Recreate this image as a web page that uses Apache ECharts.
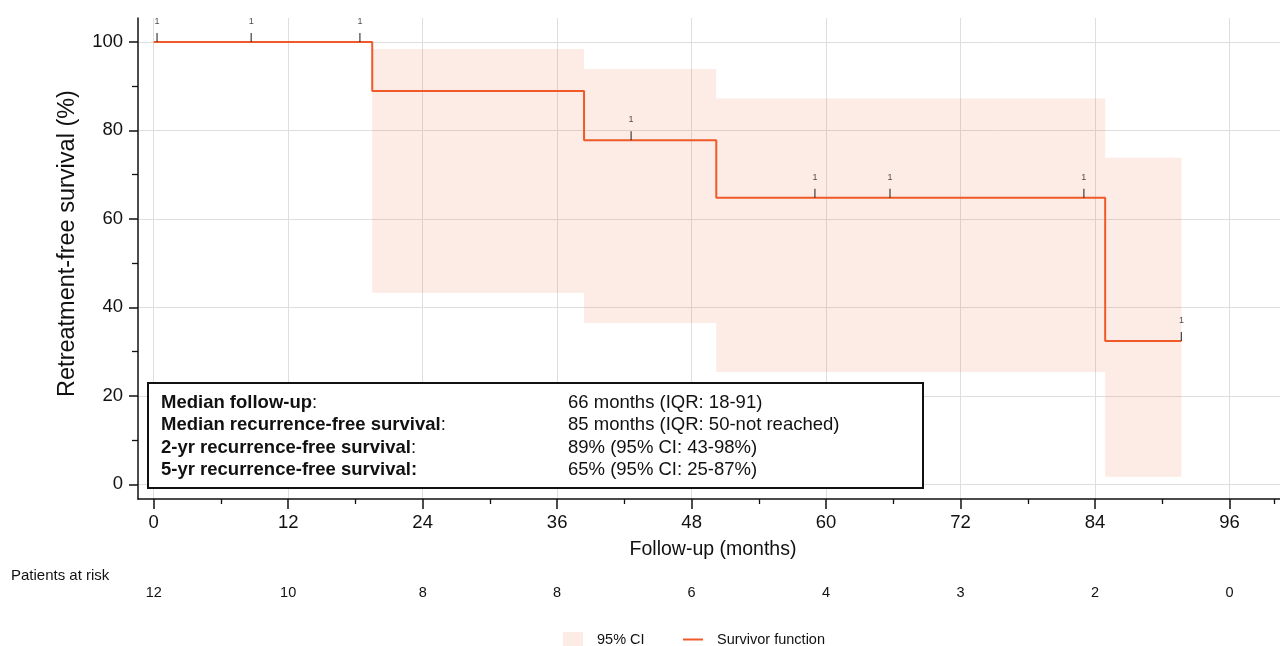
<!DOCTYPE html>
<html>
<head>
<meta charset="utf-8">
<script src="https://cdn.jsdelivr.net/npm/echarts@6/dist/echarts.min.js"></script>
<style>html,body{margin:0;padding:0;background:#fff;}#c{width:1280px;height:646px;}</style>
</head>
<body>
<div id="c"></div>
<script>
// ---- data ----
const stepTimes = [0, 19.5, 38.4, 50.2, 84.9, 91.7];
const stepSurvival = [100, 88.9, 77.8, 64.8, 32.4, 32.4];
const censorTimes = [0.3, 8.7, 18.4, 42.6, 59.0, 65.7, 83.0, 91.7];
const censorSurvival = [100, 100, 100, 77.8, 64.8, 64.8, 64.8, 32.4];
const censorCounts = [1, 1, 1, 1, 1, 1, 1, 1];
const ciStart = [19.5, 38.4, 50.2, 84.9];
const ciEnd = [38.4, 50.2, 84.9, 91.7];
const ciLower = [43.3, 36.5, 25.4, 1.7];
const ciUpper = [98.4, 93.9, 87.2, 73.8];
const xTicks = [0, 12, 24, 36, 48, 60, 72, 84, 96];
const xMinorTicks = [6, 18, 30, 42, 54, 66, 78, 90, 100];
const yTicks = [0, 20, 40, 60, 80, 100];
const yMinorTicks = [10, 30, 50, 70, 90];
const atRisk = [12, 10, 8, 8, 6, 4, 3, 2, 0];
const boxLabels = ['Median follow-up', 'Median recurrence-free survival', '2-yr recurrence-free survival', '5-yr recurrence-free survival'];
const boxValues = ['66 months (IQR: 18-91)', '85 months (IQR: 50-not reached)', '89% (95% CI: 43-98%)', '65% (95% CI: 25-87%)'];

const FONT = "'Liberation Sans', Arial, Helvetica, sans-serif";
const ORANGE = '#f05a28';
const BAND = 'rgba(240,90,40,0.12)';
const X_MIN = -1.4, X_MAX = 100.5, Y_MIN = -3.3, Y_MAX = 105.4;

const chart = echarts.init(document.getElementById('c'), null, {renderer: 'canvas'});

const lineData = stepTimes.map((t, i) => [t, stepSurvival[i]]);
const censorData = censorTimes.map((t, i) => [t, censorSurvival[i], censorCounts[i]]);
const ciData = ciStart.map((s, i) => [s, ciEnd[i], ciLower[i], ciUpper[i]]);

const boxGraphics = [];
boxGraphics.push({
  type: 'rect', left: 147, top: 382, z: 100,
  shape: {width: 775, height: 105},
  style: {fill: '#fff', stroke: '#111', lineWidth: 2}
});
boxLabels.forEach((lab, i) => {
  const boldColon = i === 3;
  boxGraphics.push({
    type: 'text', left: 161, top: 393.5 + i * 22.4, z: 101,
    style: {
      text: '{b|' + lab + '}' + (boldColon ? '{b|:}' : '{r|:}'),
      rich: {
        b: {fontFamily: FONT, fontSize: 18.5, fontWeight: 'bold', fill: '#111'},
        r: {fontFamily: FONT, fontSize: 18.5, fill: '#111'}
      },
      font: 'bold 18.5px ' + FONT, fill: '#111'
    }
  });
  boxGraphics.push({
    type: 'text', left: 568, top: 393.5 + i * 22.4, z: 101,
    style: {text: boxValues[i], font: '18.5px ' + FONT, fill: '#111'}
  });
});
boxGraphics.push({
  type: 'text', left: 11, top: 568, z: 101,
  style: {text: 'Patients at risk', font: '15px ' + FONT, fill: '#111'}
});

const option = {
  animation: false,
  backgroundColor: '#fff',
  textStyle: {fontFamily: FONT},
  grid: [
    {left: 138, right: 0, top: 18, bottom: 147, containLabel: false},
    {left: 138, right: 0, top: 570, height: 10, containLabel: false}
  ],
  legend: [
    {
      left: 563, top: 632, padding: 0, itemWidth: 20, itemHeight: 16,
      textStyle: {fontFamily: FONT, fontSize: 14.5, color: '#111', padding: [0, 0, 0, 9]},
      data: [{name: '95% CI', icon: 'rect', itemStyle: {color: BAND}}]
    },
    {
      left: 683, top: 632, padding: 0, itemWidth: 20, itemHeight: 2,
      textStyle: {fontFamily: FONT, fontSize: 14.5, color: '#111', padding: [0, 0, 0, 9]},
      data: [{name: 'Survivor function', icon: 'rect', itemStyle: {color: ORANGE}}]
    }
  ],
  xAxis: [
    {
      type: 'value', gridIndex: 0, min: X_MIN, max: X_MAX,
      name: 'Follow-up (months)', nameLocation: 'middle', nameGap: 41,
      nameTextStyle: {fontFamily: FONT, fontSize: 19.5, color: '#111', padding: [0, 0, 0, 8]},
      axisLine: {show: true, onZero: false, lineStyle: {color: '#111', width: 1.5}},
      axisTick: {show: true, length: 10, customValues: xTicks, lineStyle: {color: '#111', width: 1.5}},
      axisLabel: {show: true, customValues: xTicks, margin: 14, fontSize: 18.5, color: '#111', fontFamily: FONT},
      splitLine: {show: true, lineStyle: {color: '#dedede', width: 1}}
    },
    {
      type: 'value', gridIndex: 0, min: X_MIN, max: X_MAX, position: 'bottom',
      axisLine: {show: false, onZero: false},
      axisTick: {show: true, length: 5, customValues: xMinorTicks, lineStyle: {color: '#111', width: 1.3}},
      axisLabel: {show: false},
      splitLine: {show: false}
    },
    {
      type: 'value', gridIndex: 1, min: X_MIN, max: X_MAX,
      axisLine: {show: false, onZero: false}, axisTick: {show: false},
      axisLabel: {show: true, customValues: xTicks, margin: 5, fontSize: 14.5, color: '#111', fontFamily: FONT,
        formatter: v => { const i = xTicks.indexOf(v); return i >= 0 ? String(atRisk[i]) : ''; }},
      splitLine: {show: false}
    }
  ],
  yAxis: [
    {
      type: 'value', gridIndex: 0, min: Y_MIN, max: Y_MAX,
      name: 'Retreatment-free survival (%)', nameLocation: 'middle', nameGap: 58,
      nameTextStyle: {fontFamily: FONT, fontSize: 23.5, color: '#111', padding: [0, 0, 0, 30]},
      axisLine: {show: true, onZero: false, lineStyle: {color: '#111', width: 1.5}},
      axisTick: {show: true, length: 9, customValues: yTicks, lineStyle: {color: '#111', width: 1.5}},
      axisLabel: {show: true, customValues: yTicks, margin: 15, fontSize: 18.5, color: '#111', fontFamily: FONT},
      splitLine: {show: true, lineStyle: {color: '#dedede', width: 1}}
    },
    {
      type: 'value', gridIndex: 0, min: Y_MIN, max: Y_MAX, position: 'left',
      axisLine: {show: false, onZero: false},
      axisTick: {show: true, length: 6, customValues: yMinorTicks, lineStyle: {color: '#111', width: 1.3}},
      axisLabel: {show: false},
      splitLine: {show: false}
    },
    {type: 'value', gridIndex: 1, show: false, min: 0, max: 1}
  ],
  series: [
    {
      name: '95% CI', type: 'custom', xAxisIndex: 0, yAxisIndex: 0,
      itemStyle: {color: BAND},
      data: ciData,
      encode: {x: [0, 1], y: [2, 3]},
      renderItem: function (params, api) {
        const p0 = api.coord([api.value(0), api.value(3)]);
        const p1 = api.coord([api.value(1), api.value(2)]);
        return {
          type: 'rect',
          shape: {x: p0[0], y: p0[1], width: p1[0] - p0[0], height: p1[1] - p0[1]},
          style: {fill: BAND}
        };
      },
      z: 1
    },
    {
      name: 'Survivor function', type: 'line', xAxisIndex: 0, yAxisIndex: 0,
      step: 'end', symbol: 'none', showSymbol: false,
      lineStyle: {color: ORANGE, width: 2},
      itemStyle: {color: ORANGE},
      data: lineData, z: 3
    },
    {
      name: 'censored', type: 'scatter', xAxisIndex: 0, yAxisIndex: 0,
      symbol: 'rect', symbolSize: [1.3, 9], symbolOffset: [0, '-50%'],
      itemStyle: {color: '#222'},
      label: {show: true, position: 'top', distance: 7, fontSize: 9, color: '#222', fontFamily: FONT,
        formatter: p => String(p.value[2])},
      data: censorData, z: 4
    }
  ],
  graphic: boxGraphics
};
chart.setOption(option);
</script>
</body>
</html>
